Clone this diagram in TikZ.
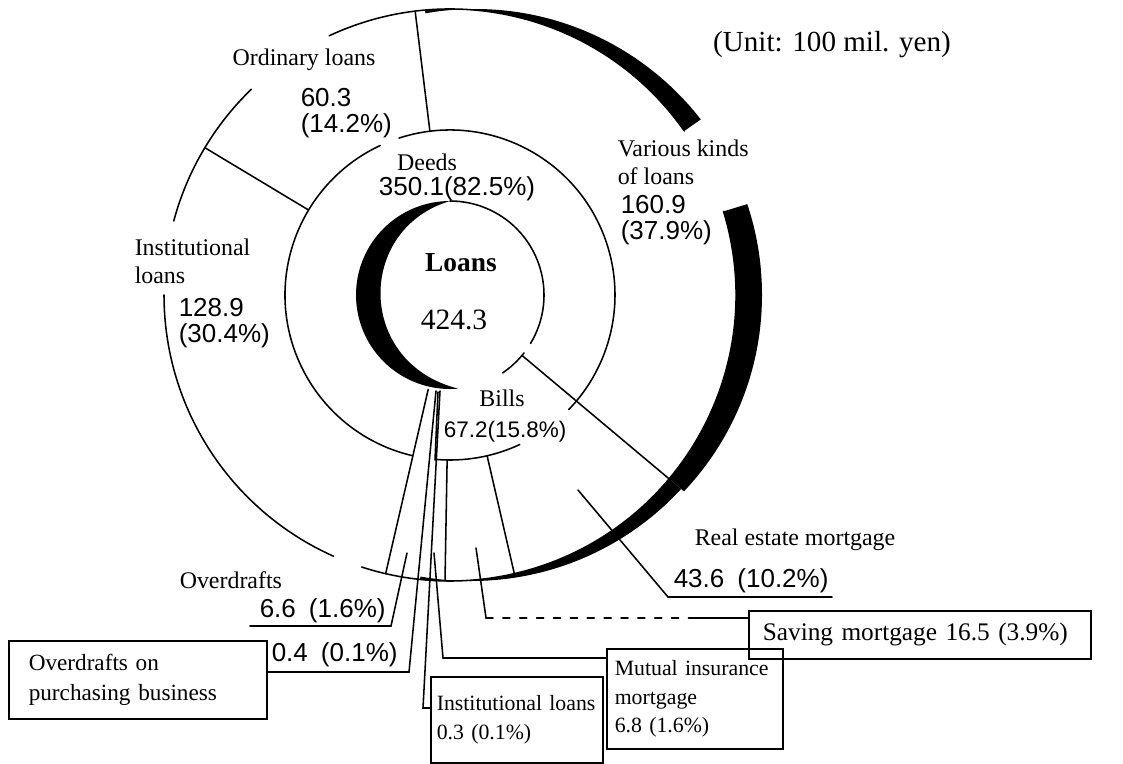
\documentclass[tikz,border=0pt]{standalone}
\usepackage{fontspec}
\setmainfont{Liberation Serif}
\setsansfont{Liberation Sans}
\newdimen\px \px=0.025cm
\newcommand\lblfont{\fontsize{17}{20}\selectfont}
\newcommand\numfont{\sffamily\fontsize{18.5}{18.5}\selectfont}
\newcommand\bxfont{\fontsize{16.5}{21}\selectfont}

\begin{document}
\begin{tikzpicture}[x=0.025cm, y=-0.025cm, line width=1.1pt, line cap=round,
    every node/.style={inner sep=0pt},
    lbl/.style={font=\lblfont, align=left},
    num/.style={font=\numfont, align=left},
    callout/.style={draw, line width=1.1pt, anchor=north west, align=left,
      inner xsep=9\px, inner ysep=0pt, font=\bxfont}]
  \useasboundingbox (0,0) rectangle (1123,763);

  \begin{scope}[shift={(450,295)}]
    \coordinate (ctr) at (0,0);
    % shadows
    \fill (-90:94) arc[start angle=-90, end angle=-275, radius=94]
      .. controls (-94,68) and (-94,-66) .. (0,-94) -- cycle;
    \foreach \a/\b/\d in {-95/-35/25, -17/40/26, 40/96/21} {
      \begin{scope}
        \clip (0,0) -- (\a:420) arc[start angle=\a, end angle=\b, radius=420] -- cycle;
        \fill[even odd rule] (0,0) circle[radius=286] (\d,0) circle[radius=286];
      \end{scope}
    }
    % rings
    \draw (56:94) arc[start angle=56, end angle=38, radius=94];
    \draw (31:94) arc[start angle=31, end angle=-90, radius=94];
    \draw (-108:165) arc[start angle=-108, end angle=44, radius=165];
    \draw (65:165) arc[start angle=65, end angle=95, radius=165];
    \draw (103:165) arc[start angle=103, end angle=245, radius=165];
    \draw (-115:286) arc[start angle=-115, end angle=-35, radius=286];
    \draw (-17:286) arc[start angle=-17, end angle=108, radius=286];
    \draw (114:286) arc[start angle=114, end angle=180, radius=286];
    \draw (195:286) arc[start angle=195, end angle=226, radius=286];
    \foreach \a/\r in {263/165, 211/165, 40/94, 77/165, 91/165, 103/97}
      \draw (\a:\r) -- (\a:286);
  \end{scope}
  \draw (438,392) -- (435,460);

  % labels on the rings
  \node[font=\fontsize{20.7}{24}\selectfont] (unit) at (832,45) {(Unit: 100 mil. yen)};
  \node[lbl] (deeds) at (427,162) {Deeds};
  \node[num] (deeds-v) at (457,189) {350.1(82.5\%)};
  \node[font=\fontsize{19.5}{22}\selectfont\bfseries] (loans) at (461,263) {Loans};
  \node[font=\fontsize{21}{24}\selectfont] (total) at (454,320) {424.3};
  \node[lbl] (bills) at (502,398) {Bills};
  \node[num, font=\sffamily\fontsize{16}{16}\selectfont, anchor=west] (bills-v) at (443,432) {67.2(15.8\%)};
  \node[lbl] (ord) at (304,60) {Ordinary loans};
  \node[num, anchor=west] (ord-v) at (300,113) {60.3\\(14.2\%)};
  \node[lbl, anchor=west] (inst-l) at (134,261) {Institutional\\loans};
  \node[num, anchor=west] (inst-v) at (178,323) {128.9\\(30.4\%)};
  \node[lbl, anchor=west] (var-l) at (617,162) {Various kinds\\of loans};
  \node[num, anchor=west] (var-v) at (620,220) {160.9\\(37.9\%)};
  \node[lbl, anchor=west] (re-l) at (694,540) {Real estate mortgage};
  \node[num, anchor=west] (re-v) at (673,581) {43.6\enspace(10.2\%)};
  \node[lbl, anchor=west] (ovd-l) at (179,580) {Overdrafts};
  \node[num, anchor=west] (ovd-v) at (259,611) {6.6\enspace(1.6\%)};
  \node[num, anchor=west] (opb-v) at (271,655) {0.4\enspace(0.1\%)};

  % boxes
  \node[callout, text width=218\px, inner xsep=20\px, minimum height=78\px] (opb-box)
    at (8,640) {Overdrafts on\\purchasing business};
  \node[callout, font=\fontsize{15.5}{21}\selectfont, text width=160\px, inner xsep=6\px, minimum height=86\px] (ins-box)
    at (430,676) {Institutional loans\\0.3 (0.1\%)};
  \node[callout, font=\fontsize{15.5}{20.5}\selectfont, text width=160\px, inner xsep=8\px, minimum height=100\px] (mut-box)
    at (606,648) {Mutual insurance\\mortgage\\6.8 (1.6\%)};
  \node[callout, font=\fontsize{18}{21}\selectfont, text width=314\px, inner xsep=14\px, minimum height=48\px] (sav-box)
    at (748,610) {Saving mortgage 16.5 (3.9\%)};

  % leaders
  \coordinate (re-a) at (578,490);
  \coordinate (re-b) at (668,597);
  \coordinate (re-c) at (832,597);
  \draw (re-a) -- (re-b) -- (re-c);
  \coordinate (sav-a) at (476,548);
  \coordinate (sav-b) at (486,618);
  \coordinate (sav-d) at (690,618);
  \draw (sav-a) -- (sav-b);
  \draw[dash pattern=on 5pt off 7pt] (sav-b) -- (sav-d);
  \draw (sav-d) -- (sav-b -| sav-box.west);
  \coordinate (mut-a) at (434,553);
  \coordinate (mut-b) at (443,658);
  \draw (mut-a) -- (mut-b) -- (mut-b -| mut-box.west);
  \coordinate (ins-a) at (440,391);
  \coordinate (ins-b) at (423,708);
  \draw (ins-a) -- (ins-b) -- (ins-b -| ins-box.west);
  \coordinate (opb-a) at (436,391);
  \coordinate (opb-b) at (409,672);
  \draw (opb-a) -- (opb-b) -- (opb-b -| opb-box.east);
  \coordinate (ovd-a) at (407,553);
  \coordinate (ovd-b) at (391,626);
  \coordinate (ovd-c) at (250,626);
  \draw (ovd-a) -- (ovd-b) -- (ovd-c);
\end{tikzpicture}
\end{document}
